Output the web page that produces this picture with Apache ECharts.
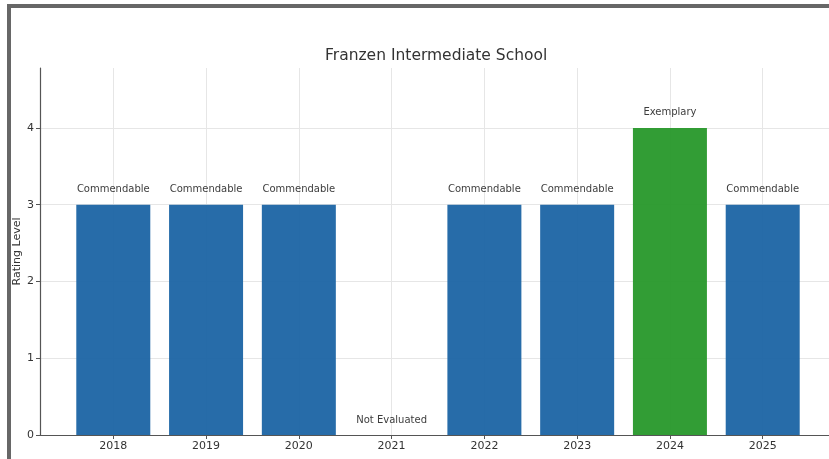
<!DOCTYPE html>
<html>
<head>
<meta charset="utf-8">
<script src="https://cdn.jsdelivr.net/npm/echarts@6/dist/echarts.min.js"></script>
<style>
html,body{margin:0;padding:0;background:#fff;overflow:hidden;}
#chart{width:829px;height:459px;}
</style>
</head>
<body>
<div id="chart"></div>
<script>
const years = ['2018','2019','2020','2021','2022','2023','2024','2025'];
const ratingValues = [3, 3, 3, 0, 3, 3, 4, 3];
const ratingNames = ['Commendable','Commendable','Commendable','Not Evaluated','Commendable','Commendable','Exemplary','Commendable'];
const barColors = ['#1b64a4','#1b64a4','#1b64a4','#1b64a4','#1b64a4','#1b64a4','#27982a','#1b64a4'];
const yTicks = [0, 1, 2, 3, 4];

const FONT = 'DejaVu Sans';
const chart = echarts.init(document.getElementById('chart'), null, {renderer: 'canvas', width: 829, height: 459});
const xIdx = years.map((_, i) => i);

chart.setOption({
  animation: false,
  backgroundColor: '#ffffff',
  textStyle: {fontFamily: FONT},
  title: {
    text: 'Franzen Intermediate School',
    left: 320, top: 43,
    textStyle: {fontFamily: FONT, fontSize: 15.5, fontWeight: 'normal', color: '#333'}
  },
  graphic: [{
    type: 'polyline', silent: true, z: 100,
    shape: {points: [[9, 459], [9, 6], [829, 6]]},
    style: {fill: 'none', stroke: '#676767', lineWidth: 4}
  }],
  grid: {left: 40, top: 68, width: 796, bottom: 24, containLabel: false, outerBoundsMode: 'none'},
  xAxis: {
    type: 'value', min: -0.79, max: 7.79,
    axisLine: {show: true, onZero: false, lineStyle: {color: '#555', width: 1.2}},
    axisTick: {show: true, length: 4, customValues: xIdx, lineStyle: {color: '#555'}},
    axisLabel: {customValues: xIdx, margin: 6, fontFamily: FONT, fontSize: 11, color: '#333',
      formatter: v => years[Math.round(v)]},
    splitLine: {show: true, lineStyle: {color: '#e6e6e6', width: 1}}
  },
  yAxis: {
    type: 'value', min: 0, max: 4.78,
    name: 'Rating Level', nameLocation: 'middle', nameGap: 17, nameRotate: 90,
    nameMoveOverlap: false,
    nameTextStyle: {fontFamily: FONT, fontSize: 11, color: '#333', verticalAlign: 'bottom'},
    axisLine: {show: true, onZero: false, lineStyle: {color: '#555', width: 1.2}},
    axisTick: {show: true, length: 4, customValues: yTicks, lineStyle: {color: '#555'}},
    axisLabel: {customValues: yTicks, margin: 6, fontFamily: FONT, fontSize: 11, color: '#333'},
    splitLine: {show: true, lineStyle: {color: '#e6e6e6', width: 1}}
  },
  series: [{
    type: 'bar',
    barWidth: 74,
    data: ratingValues.map((v, i) => ({
      value: [i, v],
      itemStyle: {color: barColors[i], opacity: 0.95},
      label: {formatter: ratingNames[i]}
    })),
    label: {show: true, position: 'top', distance: 10, fontFamily: FONT, fontSize: 10, color: '#333'}
  }]
});
</script>
</body>
</html>
